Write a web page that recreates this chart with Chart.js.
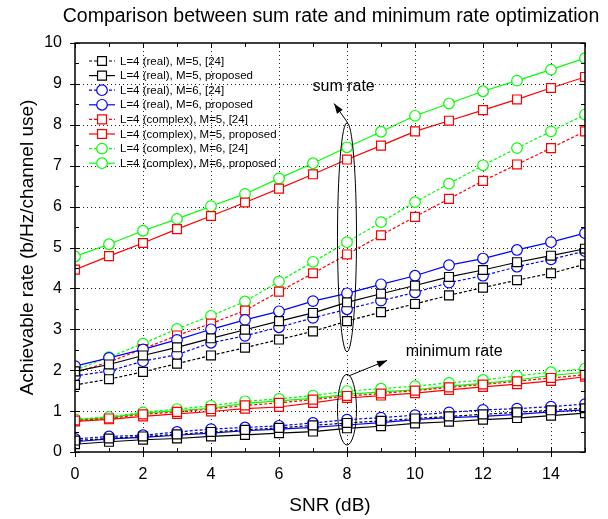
<!DOCTYPE html>
<html><head><meta charset="utf-8">
<script src="https://cdn.jsdelivr.net/npm/chart.js@4/dist/chart.umd.min.js"></script>
<style>html,body{margin:0;padding:0;background:#fff;}canvas{display:block;}</style>
</head><body>
<canvas id="c" width="608" height="519"></canvas>
<script>
// ---------- data ----------
const snr = [0,1,2,3,4,5,6,7,8,9,10,11,12,13,14,15];
const xTickLabels = [0,2,4,6,8,10,12,14];
const yTickLabels = [0,1,2,3,4,5,6,7,8,9,10];

const sumRealM5Ref     = [1.64,1.78,1.96,2.16,2.36,2.55,2.75,2.95,3.20,3.42,3.62,3.83,4.02,4.20,4.37,4.59];
const sumRealM5Prop    = [1.97,2.14,2.36,2.56,2.78,2.99,3.20,3.40,3.66,3.87,4.07,4.28,4.45,4.64,4.80,4.97];
const sumRealM6Ref     = [1.86,1.98,2.22,2.38,2.67,2.84,3.05,3.28,3.49,3.70,3.90,4.14,4.31,4.53,4.71,4.91];
const sumRealM6Prop    = [2.10,2.30,2.51,2.74,3.00,3.23,3.44,3.69,3.88,4.10,4.31,4.57,4.73,4.94,5.13,5.35];
const sumCplxM5Ref     = [1.94,2.20,2.52,2.85,3.14,3.46,3.92,4.37,4.83,5.30,5.75,6.19,6.63,7.03,7.43,7.84];
const sumCplxM5Prop    = [4.46,4.79,5.11,5.45,5.77,6.10,6.44,6.79,7.15,7.49,7.84,8.10,8.36,8.62,8.90,9.17];
const sumCplxM6Ref     = [2.00,2.32,2.65,3.01,3.33,3.68,4.17,4.65,5.13,5.62,6.11,6.56,7.01,7.43,7.84,8.25];
const sumCplxM6Prop    = [4.78,5.08,5.41,5.70,6.01,6.31,6.69,7.06,7.45,7.83,8.22,8.52,8.82,9.08,9.35,9.63];

const minRealM5Ref     = [0.28,0.33,0.38,0.43,0.49,0.54,0.59,0.65,0.71,0.76,0.82,0.87,0.92,0.97,1.02,1.07];
const minRealM5Prop    = [0.19,0.25,0.30,0.33,0.38,0.42,0.46,0.50,0.58,0.63,0.70,0.74,0.79,0.83,0.89,0.95];
const minRealM6Ref     = [0.32,0.38,0.41,0.49,0.56,0.60,0.64,0.71,0.79,0.84,0.90,0.97,1.03,1.06,1.11,1.17];
const minRealM6Prop    = [0.25,0.32,0.36,0.41,0.46,0.52,0.56,0.60,0.66,0.72,0.79,0.84,0.87,0.92,0.98,1.03];
const minCplxM5Ref     = [0.77,0.82,0.92,0.98,1.05,1.14,1.20,1.28,1.37,1.43,1.50,1.58,1.65,1.73,1.81,1.89];
const minCplxM5Prop    = [0.75,0.80,0.87,0.93,0.99,1.06,1.10,1.20,1.32,1.38,1.44,1.52,1.59,1.66,1.74,1.84];
const minCplxM6Ref     = [0.80,0.86,0.97,1.05,1.13,1.24,1.30,1.38,1.49,1.55,1.61,1.69,1.76,1.86,1.95,2.04];
const minCplxM6Prop    = [0.79,0.84,0.95,1.01,1.07,1.19,1.25,1.31,1.41,1.47,1.52,1.61,1.68,1.76,1.87,1.95];

const legendLabels = [
  'L=4 (real), M=5, [24]',
  'L=4 (real), M=5, proposed',
  'L=4 (real), M=6, [24]',
  'L=4 (real), M=6, proposed',
  'L=4 (complex), M=5, [24]',
  'L=4 (complex), M=5, proposed',
  'L=4 (complex), M=6, [24]',
  'L=4 (complex), M=6, proposed'
];
const sumSeries = [sumRealM5Ref,sumRealM5Prop,sumRealM6Ref,sumRealM6Prop,sumCplxM5Ref,sumCplxM5Prop,sumCplxM6Ref,sumCplxM6Prop];
const minSeries = [minRealM5Ref,minRealM5Prop,minRealM6Ref,minRealM6Prop,minCplxM5Ref,minCplxM5Prop,minCplxM6Ref,minCplxM6Prop];

// ---------- styles ----------
const FONT = '"Liberation Sans", Arial, Helvetica, sans-serif';
const styles = [
  {color:'#000000', dash:[3,2], marker:'rect'},
  {color:'#000000', dash:[],    marker:'rect'},
  {color:'#0000ff', dash:[3,2], marker:'circle'},
  {color:'#0000ff', dash:[],    marker:'circle'},
  {color:'#ff0000', dash:[3,2], marker:'rect'},
  {color:'#ff0000', dash:[],    marker:'rect'},
  {color:'#00ff00', dash:[3,2], marker:'circle'},
  {color:'#00ff00', dash:[],    marker:'circle'}
];
const CIRCLE_R = 5.3, RECT_R = 6.3;

function makeDataset(label, arr, st, hidden) {
  return {
    label: label,
    data: snr.map((x, i) => ({x: x, y: arr[i]})),
    borderColor: st.color,
    borderWidth: 1.2,
    borderDash: st.dash,
    pointStyle: st.marker,
    pointRadius: st.marker === 'circle' ? CIRCLE_R : RECT_R,
    pointBorderColor: st.color,
    pointBackgroundColor: '#ffffff',
    pointBorderWidth: 1.2,
    fill: false,
    tension: 0,
    clip: 0,
    isLegend: !hidden
  };
}
const datasets = [];
for (let i = 0; i < 8; i++) datasets.push(makeDataset(legendLabels[i], sumSeries[i], styles[i], false));
for (let i = 0; i < 8; i++) datasets.push(makeDataset(legendLabels[i], minSeries[i], styles[i], true));

// annotations in data coordinates
const notes = {
  sumText: {x: 7.9, y: 8.93, text: 'sum rate'},
  minText: {x: 11.15, y: 2.45, text: 'minimum rate'},
  sumEllipse: {x: 8, yTop: 8.05, yBottom: 2.45},
  minEllipse: {x: 8, yTop: 1.9, yBottom: 0.17},
  sumArrow: {x1: 8.02, y1: 8.05, x2: 7.62, y2: 8.52},
  minArrow: {x1: 8.05, y1: 1.86, x2: 9.18, y2: 2.24}
};

function drawMarker(ctx, style, x, y) {
  ctx.save();
  ctx.setLineDash([]);
  ctx.fillStyle = '#fff';
  ctx.strokeStyle = style.color;
  ctx.lineWidth = 1.2;
  ctx.beginPath();
  if (style.marker === 'circle') {
    ctx.arc(x, y, CIRCLE_R, 0, Math.PI * 2);
  } else {
    const s = RECT_R * Math.SQRT1_2;
    ctx.rect(x - s, y - s, 2 * s, 2 * s);
  }
  ctx.fill();
  ctx.stroke();
  ctx.restore();
}

function drawArrow(ctx, x1, y1, x2, y2) {
  ctx.beginPath();
  ctx.moveTo(x1, y1);
  ctx.lineTo(x2, y2);
  ctx.stroke();
  const ang = Math.atan2(y2 - y1, x2 - x1);
  const L = 10, W = 3.5;
  ctx.beginPath();
  ctx.moveTo(x2, y2);
  ctx.lineTo(x2 - L * Math.cos(ang) + W * Math.sin(ang), y2 - L * Math.sin(ang) - W * Math.cos(ang));
  ctx.lineTo(x2 - L * Math.cos(ang) - W * Math.sin(ang), y2 - L * Math.sin(ang) + W * Math.cos(ang));
  ctx.closePath();
  ctx.fill();
}

const framePlugin = {
  id: 'frame',
  beforeDatasetsDraw(chart) {
    const {ctx, chartArea: a, scales: {x, y}} = chart;
    ctx.save();
    ctx.strokeStyle = '#222';
    ctx.lineWidth = 1;
    ctx.setLineDash([1, 3]);
    xTickLabels.forEach(v => {
      if (v <= x.min || v >= x.max) return;
      const px = Math.round(x.getPixelForValue(v)) + 0.5;
      ctx.beginPath(); ctx.moveTo(px, a.top); ctx.lineTo(px, a.bottom); ctx.stroke();
    });
    yTickLabels.forEach(v => {
      if (v <= y.min || v >= y.max) return;
      const py = Math.round(y.getPixelForValue(v)) + 0.5;
      ctx.beginPath(); ctx.moveTo(a.left, py); ctx.lineTo(a.right, py); ctx.stroke();
    });
    ctx.restore();
  },
  afterDatasetsDraw(chart) {
    const {ctx, chartArea: a, scales: {x, y}} = chart;
    ctx.save();
    // frame
    ctx.setLineDash([]);
    ctx.strokeStyle = '#000';
    ctx.lineWidth = 1.5;
    ctx.strokeRect(a.left, a.top, a.right - a.left, a.bottom - a.top);
    ctx.lineWidth = 1;
    // x ticks
    for (let v = 0; v <= 15; v++) {
      const px = Math.round(x.getPixelForValue(v)) + 0.5;
      const major = xTickLabels.includes(v);
      ctx.beginPath();
      ctx.moveTo(px, a.bottom + (major ? 5 : 0));
      ctx.lineTo(px, a.bottom - (major ? 5 : 4));
      ctx.moveTo(px, a.top);
      ctx.lineTo(px, a.top + (major ? 5 : 4));
      ctx.stroke();
    }
    // y ticks
    for (let v = 0; v <= 10; v += 0.5) {
      const py = Math.round(y.getPixelForValue(v)) + 0.5;
      const major = Number.isInteger(v);
      ctx.beginPath();
      ctx.moveTo(a.left - (major ? 5 : 0), py);
      ctx.lineTo(a.left + (major ? 5 : 4), py);
      ctx.moveTo(a.right, py);
      ctx.lineTo(a.right - (major ? 5 : 4), py);
      ctx.stroke();
    }
    // title
    ctx.fillStyle = '#000';
    ctx.font = '19.5px ' + FONT;
    ctx.textAlign = 'center';
    ctx.textBaseline = 'middle';
    ctx.fillText('Comparison between sum rate and minimum rate optimization', 331, 17);
    // legend
    ctx.font = '11.5px ' + FONT;
    ctx.textAlign = 'left';
    const rowY0 = 61, rowH = 14.6;
    chart.data.datasets.forEach((ds, i) => {
      if (!ds.isLegend) return;
      const st = styles[i];
      const ry = rowY0 + i * rowH;
      ctx.save();
      ctx.strokeStyle = st.color;
      ctx.lineWidth = 1.2;
      ctx.setLineDash(st.dash);
      ctx.beginPath(); ctx.moveTo(89, ry); ctx.lineTo(115, ry); ctx.stroke();
      ctx.restore();
      drawMarker(ctx, st, 102, ry);
      ctx.fillStyle = '#000';
      ctx.fillText(ds.label, 120, ry + 0.5);
    });
    // annotations
    ctx.strokeStyle = '#000';
    ctx.fillStyle = '#000';
    ctx.lineWidth = 1;
    [notes.sumEllipse, notes.minEllipse].forEach(e => {
      const cx = x.getPixelForValue(e.x);
      const t = y.getPixelForValue(e.yTop), b = y.getPixelForValue(e.yBottom);
      ctx.beginPath();
      ctx.ellipse(cx, (t + b) / 2, 9.5, (b - t) / 2, 0, 0, Math.PI * 2);
      ctx.stroke();
    });
    [notes.sumArrow, notes.minArrow].forEach(ar => {
      drawArrow(ctx, x.getPixelForValue(ar.x1), y.getPixelForValue(ar.y1), x.getPixelForValue(ar.x2), y.getPixelForValue(ar.y2));
    });
    ctx.font = '16px ' + FONT;
    ctx.textAlign = 'center';
    ctx.textBaseline = 'middle';
    [notes.sumText, notes.minText].forEach(n => {
      ctx.fillText(n.text, x.getPixelForValue(n.x), y.getPixelForValue(n.y));
    });
    ctx.restore();
  }
};

new Chart(document.getElementById('c'), {
  type: 'line',
  data: {datasets: datasets},
  options: {
    responsive: false,
    animation: false,
    devicePixelRatio: 1,
    layout: {padding: {top: 43, right: 23, left: 0, bottom: 0}},
    plugins: {legend: {display: false}, title: {display: false}, tooltip: {enabled: false}},
    scales: {
      x: {
        type: 'linear', min: 0, max: 15,
        afterFit: s => { s.height = 67; },
        grid: {display: false, drawTicks: false},
        border: {display: false},
        ticks: {
          stepSize: 1, autoSkip: false, maxRotation: 0, padding: 13, color: '#000',
          font: {family: FONT, size: 16},
          callback: v => xTickLabels.includes(v) ? String(v) : ''
        },
        title: {display: true, text: 'SNR (dB)', color: '#000', font: {family: FONT, size: 19}, padding: {top: 0, bottom: 2}}
      },
      y: {
        type: 'linear', min: 0, max: 10,
        afterFit: s => { s.width = 75; },
        grid: {display: false, drawTicks: false},
        border: {display: false},
        ticks: {
          stepSize: 1, autoSkip: false, padding: 13, color: '#000',
          font: {family: FONT, size: 16},
          callback: v => yTickLabels.includes(v) ? String(v) : ''
        },
        title: {display: true, text: 'Achievable rate (b/Hz/channel use)', color: '#000', font: {family: FONT, size: 19}, padding: {top: 16, bottom: 0}}
      }
    }
  },
  plugins: [framePlugin]
});
</script>
</body></html>
